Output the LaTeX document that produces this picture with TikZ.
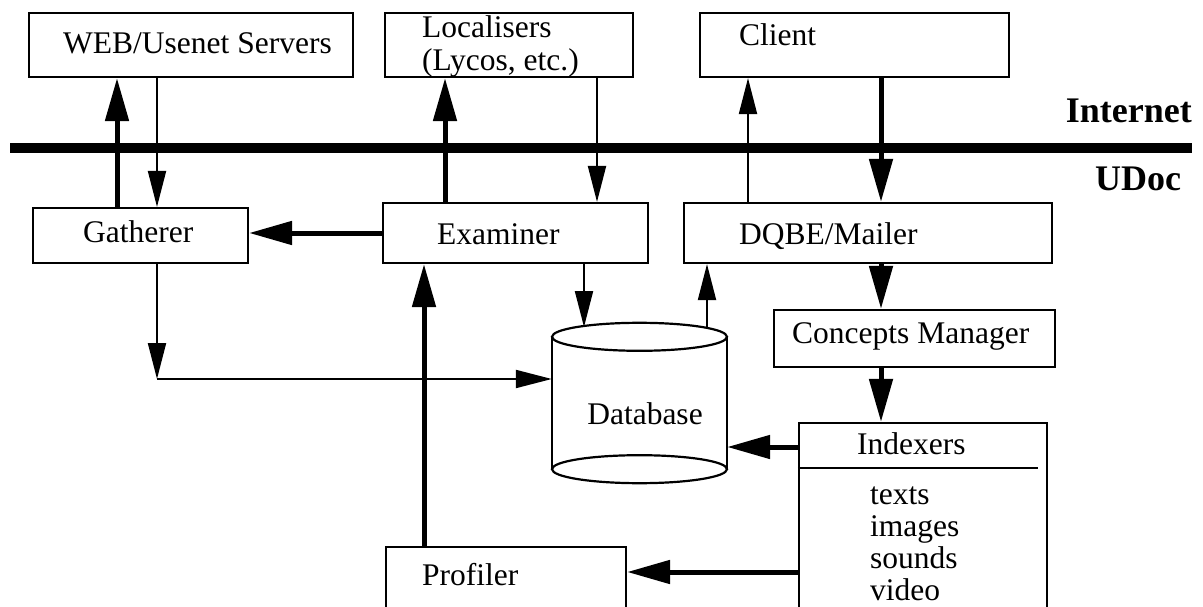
\documentclass[tikz,border=0pt]{standalone}
\usepackage{fontspec}
\setmainfont{Liberation Serif}
\usetikzlibrary{arrows.meta}
\begin{document}
\begin{tikzpicture}[x=1pt,y=-1pt,
  box/.style={draw,line width=2.2pt,inner sep=0},
  lbl/.style={anchor=base west,inner sep=0,font=\fontsize{31.5}{33}\selectfont},
  bold/.style={inner sep=0,font=\bfseries\fontsize{36}{38}\selectfont},
  thinarr/.style={line width=2pt,-{Triangle[length=36pt,width=18pt]}},
  thickarr/.style={line width=5pt,-{Triangle[length=43pt,width=23pt]}},
  bus/.style={line width=10pt},
  outline/.style={line width=2.2pt}]
\useasboundingbox (0,0) rectangle (1203,607);
\clip (0,0) rectangle (1203,607);
% boxes
\node[box,minimum width=324pt,minimum height=64pt] (web) at (191,45) {};
\node[box,minimum width=248pt,minimum height=64pt] (loc) at (509,45) {};
\node[box,minimum width=309pt,minimum height=64pt] (client) at (854.5,45) {};
\node[box,minimum width=215pt,minimum height=55pt] (gath) at (140.5,235.5) {};
\node[box,minimum width=265pt,minimum height=60pt] (exam) at (515.5,233) {};
\node[box,minimum width=368pt,minimum height=60pt] (dqbe) at (868,233) {};
\node[box,minimum width=281pt,minimum height=57pt] (conc) at (914.5,338.5) {};
\node[box,minimum width=248pt,minimum height=237pt] (idx) at (923,541.5) {};
\node[box,minimum width=240pt,minimum height=113pt] (prof) at (506,603.5) {};
% database cylinder
\node[minimum width=175pt,minimum height=132pt,inner sep=0] (db) at (639.5,403) {};
\draw[outline] (db.north west) -- (db.south west) (db.north east) -- (db.south east);
\draw[outline] (db.north) ellipse [x radius=87.5pt,y radius=14pt];
\draw[outline] (db.south) ellipse [x radius=87.5pt,y radius=14pt];
% texts
\node[lbl] (webt) at (63,54) {WEB/Usenet Servers};
\node[lbl] (loct1) at (422,38) {Localisers};
\node[lbl] (loct2) at (422,71) {(Lycos, etc.)};
\node[lbl] (clientt) at (739,46) {Client};
\node[lbl] (gatht) at (83,243) {Gatherer};
\node[lbl] (examt) at (437,244) {Examiner};
\node[lbl] (dqbet) at (739,244) {DQBE/Mailer};
\node[lbl] (conct) at (792,343) {Concepts Manager};
\node[lbl,anchor=base] (dbt) at (645,424) {Database};
\node[lbl] (idxt) at (857,454) {Indexers};
\node[lbl] (it1) at (870,504) {texts};
\node[lbl] (it2) at (870,536) {images};
\node[lbl] (it3) at (870,568) {sounds};
\node[lbl] (it4) at (870,600) {video};
\node[lbl] (proft) at (422,585) {Profiler};
\node[bold,anchor=base east] (inet) at (1192,123) {Internet};
\node[bold,anchor=base west] (udoc) at (1095,191) {UDoc};
% separator in indexers
\coordinate (sepL) at (799,468);
\coordinate (sepR) at (1038,468);
\draw[outline] (idx.west |- sepL) -- (sepR);
% internet bus
\coordinate (busL) at (10,148);
\coordinate (busR) at (1192,148);
\draw[bus] (busL) -- (busR);
% columns and rows
\coordinate (c1) at (117,0);
\coordinate (c2) at (157,0);
\coordinate (c3) at (445,0);
\coordinate (c4) at (597,0);
\coordinate (c5) at (748,0);
\coordinate (c6) at (881,0);
\coordinate (c7) at (424,0);
\coordinate (c8) at (584,0);
\coordinate (c9) at (707,0);
\coordinate (r1) at (0,233);
\coordinate (r2) at (0,379);
\coordinate (r3) at (0,447);
\coordinate (r4) at (0,572);
\coordinate (dbin) at (584,327);
\coordinate (dbout) at (707,328);
\coordinate (corner) at (157,379);
% connectors
\draw[thickarr] (gath.north -| c1) -- (web.south -| c1);
\draw[thinarr] (web.south -| c2) -- (gath.north -| c2);
\draw[thickarr] (exam.west |- r1) -- (gath.east |- r1);
\draw[thickarr] (exam.north -| c3) -- (loc.south -| c3);
\draw[thinarr] (loc.south -| c4) -- (exam.north -| c4);
\draw[thinarr] (dqbe.north -| c5) -- (client.south -| c5);
\draw[thickarr] (client.south -| c6) -- (dqbe.north -| c6);
\draw[thickarr] (dqbe.south -| c6) -- (conc.north -| c6);
\draw[thickarr] (conc.south -| c6) -- (idx.north -| c6);
\draw[thinarr] (gath.south -| c2) -- (corner);
\draw[thinarr] (corner) -- (db.west |- r2);
\draw[thinarr] (exam.south -| c8) -- (dbin);
\draw[thinarr] (dbout) -- (dqbe.south -| c9);
\draw[thickarr] (idx.west |- r3) -- (db.east |- r3);
\draw[thickarr] (idx.west |- r4) -- (prof.east |- r4);
\draw[thickarr] (prof.north -| c7) -- (exam.south -| c7);
\end{tikzpicture}
\end{document}
